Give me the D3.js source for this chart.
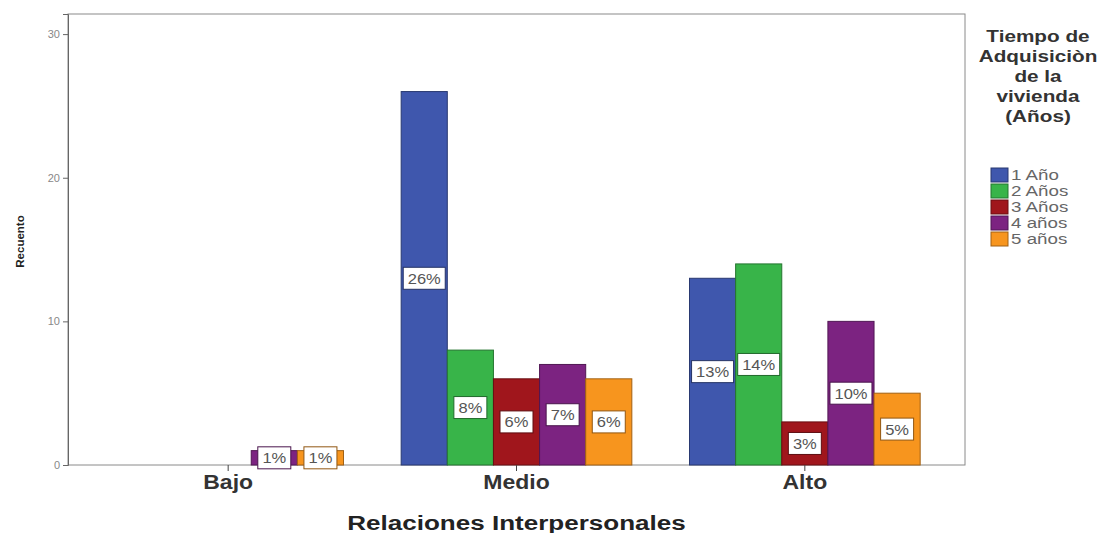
<!DOCTYPE html>
<html>
<head>
<meta charset="utf-8">
<script src="https://cdn.jsdelivr.net/npm/d3@7"></script>
<style>
  body { margin: 0; background: #fff; overflow: hidden; }
  text { font-family: Arial, "Liberation Sans", sans-serif; }
</style>
</head>
<body>
<div id="chart"></div>
<script>
// data
const categories = ["Bajo", "Medio", "Alto"];
const series = ["1 Año", "2 Años", "3 Años", "4 años", "5 años"];
const colors = ["#3f57ad", "#38b449", "#a0161c", "#7c2381", "#f7951e"];
const values = [
  [0, 0, 0, 1, 1],    // Bajo
  [26, 8, 6, 7, 6],   // Medio
  [13, 14, 3, 10, 5]  // Alto
];
const pctLabels = [
  [null, null, null, "1%", "1%"],
  ["26%", "8%", "6%", "7%", "6%"],
  ["13%", "14%", "3%", "10%", "5%"]
];
const yTicks = [0, 10, 20, 30];
const legendTitle = ["Tiempo de", "Adquisiciòn", "de la", "vivienda", "(Años)"];

const width = 1109, height = 533;
const frame = { left: 68, right: 965, top: 14, bottom: 465 };

const svg = d3.select("#chart").append("svg")
  .attr("width", width)
  .attr("height", height);

const x0 = d3.scaleBand()
  .domain(categories)
  .range([84, 949]);

// bars of a group fill ~80% of the band
const groupW = x0.bandwidth() * 0.8;
const x1 = d3.scaleBand()
  .domain(series)
  .range([(x0.bandwidth() - groupW) / 2, (x0.bandwidth() + groupW) / 2]);

const y = d3.scaleLinear()
  .domain([0, 31.4])
  .range([frame.bottom, frame.top]);

// flat list of bars
const bars = [];
values.forEach((row, i) => row.forEach((v, j) => {
  bars.push({ cat: categories[i], ser: series[j], j: j, v: v, lbl: pctLabels[i][j] });
}));

// frame
svg.append("rect")
  .attr("x", frame.left)
  .attr("y", frame.top)
  .attr("width", frame.right - frame.left)
  .attr("height", frame.bottom - frame.top)
  .attr("fill", "none")
  .attr("stroke", "#8a8a8a")
  .attr("stroke-width", 1);

// bars
svg.append("g")
  .selectAll("rect")
  .data(bars.filter(d => d.v > 0))
  .join("rect")
  .attr("x", d => x0(d.cat) + x1(d.ser))
  .attr("y", d => y(d.v))
  .attr("width", x1.bandwidth())
  .attr("height", d => y(0) - y(d.v))
  .attr("fill", d => colors[d.j])
  .attr("stroke", d => d3.color(colors[d.j]).darker(1.2))
  .attr("stroke-width", 1);

// percentage labels
const lbls = svg.append("g")
  .selectAll("g")
  .data(bars.filter(d => d.lbl))
  .join("g")
  .attr("transform", d => `translate(${x0(d.cat) + x1(d.ser) + x1.bandwidth() / 2},${(y(d.v) + y(0)) / 2})`);

lbls.append("rect")
  .attr("x", d => -(d.lbl.length > 2 ? 42 : 33) / 2)
  .attr("y", -11)
  .attr("width", d => d.lbl.length > 2 ? 42 : 33)
  .attr("height", 22)
  .attr("fill", "#fff")
  .attr("stroke", d => d3.color(colors[d.j]).darker(1.5))
  .attr("stroke-width", 1);

lbls.append("text")
  .attr("dy", "0.36em")
  .attr("text-anchor", "middle")
  .attr("font-size", 15)
  .attr("fill", "#555")
  .attr("transform", "scale(1.1,1)")
  .text(d => d.lbl);

// y axis
const yAxis = svg.append("g")
  .attr("transform", `translate(${frame.left},0)`)
  .call(d3.axisLeft(y).tickValues(yTicks).tickSize(5).tickPadding(3));
yAxis.select(".domain").attr("stroke", "#666");
yAxis.selectAll(".tick line").attr("stroke", "#666");
yAxis.selectAll(".tick text").attr("font-size", 11).attr("fill", "#888");

// x axis
const xAxis = svg.append("g")
  .attr("transform", `translate(0,${frame.bottom})`)
  .call(d3.axisBottom(x0).tickSize(6).tickPadding(4).tickSizeOuter(0));
xAxis.select(".domain").remove();
xAxis.selectAll(".tick line").attr("stroke", "#444");
xAxis.selectAll(".tick text")
  .attr("font-size", 20)
  .attr("font-weight", "bold")
  .attr("fill", "#333")
  .attr("transform", "scale(1.15,1)");

// axis titles
svg.append("text")
  .attr("transform", `translate(24,${(frame.top + frame.bottom) / 2 + 2}) rotate(-90)`)
  .attr("text-anchor", "middle")
  .attr("font-size", 11.5)
  .attr("font-weight", "bold")
  .attr("fill", "#222")
  .text("Recuento");

svg.append("text")
  .attr("transform", `translate(${(84 + 949) / 2},530) scale(1.24,1)`)
  .attr("text-anchor", "middle")
  .attr("font-size", 21)
  .attr("font-weight", "bold")
  .attr("fill", "#222")
  .text("Relaciones Interpersonales");

// legend
const legend = svg.append("g");
legend.selectAll("text.title")
  .data(legendTitle)
  .join("text")
  .attr("class", "title")
  .attr("transform", (d, i) => `translate(1038,${42 + i * 20}) scale(1.22,1)`)
  .attr("text-anchor", "middle")
  .attr("font-size", 17)
  .attr("font-weight", "bold")
  .attr("fill", "#333")
  .text(d => d);

const items = legend.selectAll("g.item")
  .data(series)
  .join("g")
  .attr("class", "item")
  .attr("transform", (d, i) => `translate(991,${168 + i * 16})`);

items.append("rect")
  .attr("width", 17)
  .attr("height", 14)
  .attr("fill", (d, i) => colors[i])
  .attr("stroke", (d, i) => d3.color(colors[i]).darker(1.2));

items.append("text")
  .attr("transform", "translate(20,7) scale(1.25,1)")
  .attr("dy", "0.36em")
  .attr("font-size", 15)
  .attr("fill", "#666")
  .text(d => d);
</script>
</body>
</html>
